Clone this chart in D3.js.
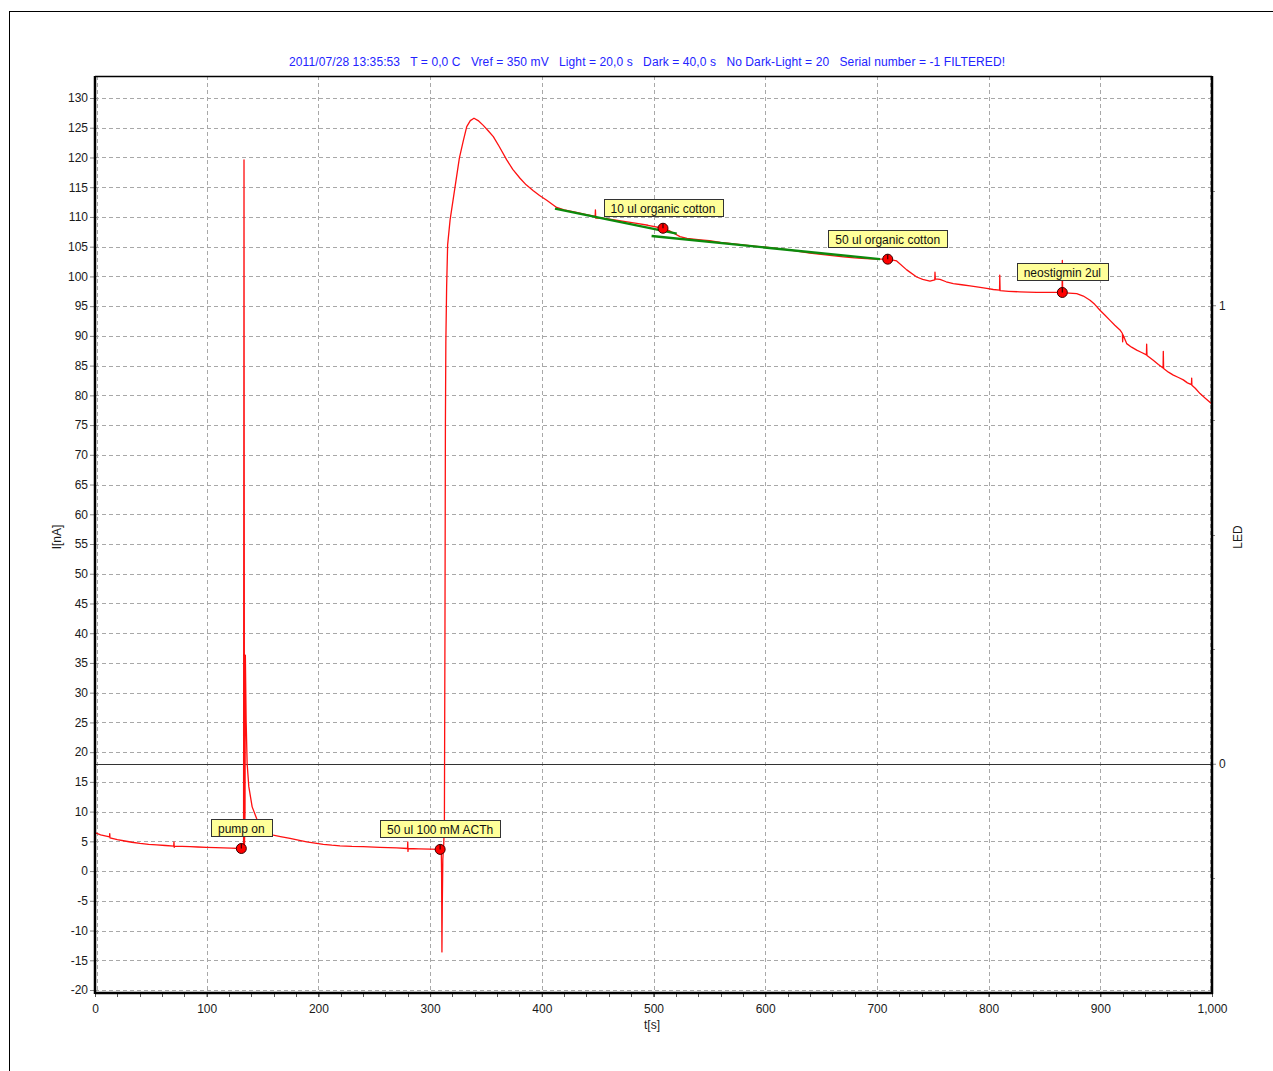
<!DOCTYPE html>
<html>
<head>
<meta charset="utf-8">
<script src="https://cdn.jsdelivr.net/npm/d3@7"></script>
<style>
  html, body { margin: 0; padding: 0; background: #fff; }
  svg { display: block; font-family: "Liberation Sans", Arial, sans-serif; }
</style>
</head>
<body>
<svg id="chart" width="1273" height="1071"></svg>
<script>
// ---------------- data ----------------
const titleText = "2011/07/28 13:35:53   T = 0,0 C   Vref = 350 mV   Light = 20,0 s   Dark = 40,0 s   No Dark-Light = 20   Serial number = -1 FILTERED!";
const xLabel = "t[s]";
const yLabel = "I[nA]";
const y2Label = "LED";

const xTicks = [0, 100, 200, 300, 400, 500, 600, 700, 800, 900, 1000];
const xTickLabels = ["0", "100", "200", "300", "400", "500", "600", "700", "800", "900", "1,000"];
const yTicks = [-20, -15, -10, -5, 0, 5, 10, 15, 20, 25, 30, 35, 40, 45, 50, 55, 60, 65, 70, 75, 80, 85, 90, 95, 100, 105, 110, 115, 120, 125, 130];
const ledTicks = [0, 1];
const ledMinorTicks = [-0.25, 0.25, 0.5, 0.75, 1.25];

// current trace [t (s), I (nA)]
const currentTrace = [
  [0,6.45],[5,6.1],[13,5.75],[13.2,6.3],[13.4,5.6],[20,5.3],[25.4,5.1],[33,4.85],[40.3,4.65],[48,4.5],
  [55.2,4.4],[63,4.3],[70.5,4.2],[70.7,4.9],[70.9,4.0],[71.1,4.2],[78,4.15],[85,4.1],[92,4.05],[100,4.0],
  [108,3.95],[115,3.9],[122,3.85],[129.8,3.8],[131,3.8],[133,3.8],[133.4,119.6],[133.8,4.0],[134.3,10],[134.6,36.3],
  [135.3,25.4],[136.2,18.1],[137.7,14.2],[140.7,10.8],[144.6,8.9],[147.7,7.5],[153,6.6],[159.6,6.05],[166,5.8],[174.6,5.5],
  [182,5.2],[189.5,4.9],[197,4.7],[204.4,4.5],[212,4.35],[219.3,4.25],[230,4.15],[240,4.1],[255,4.0],[270,3.9],
  [279.8,3.8],[280,4.9],[280.2,3.3],[280.4,3.8],[290,3.75],[300,3.7],[308.3,3.65],[310,3.6],[310.3,-0.5],[310.6,-13.6],
  [310.9,-6],[311.4,2],[312.2,4.5],[312.8,8],[313.3,40],[313.7,75],[314.1,89],[314.8,98.2],[315.7,105.3],[317.9,109.5],
  [322.3,115],[326.2,119.9],[329.7,122.8],[332.8,125.2],[336,126.2],[339.3,126.6],[343,126.2],[347.6,125.4],[352,124.5],[356.6,123.5],
  [362,121.8],[368.6,119.6],[374,118],[380.5,116.5],[386,115.4],[392.4,114.4],[398,113.6],[404.4,112.8],[413.3,111.6],[420,111.2],
  [430,110.8],[440,110.4],[447.8,110.1],[448,111.2],[448.3,109.8],[455,109.8],[465,109.5],[475,109.2],[485,108.9],[495,108.6],
  [508.5,108.1],[515,107.6],[523.7,106.7],[530,106.4],[540,106.2],[550,106.0],[560,105.7],[570,105.5],[580,105.3],[590,105.1],
  [600,104.9],[610,104.7],[620,104.5],[630,104.2],[640,103.9],[650,103.7],[660,103.5],[670,103.3],[680,103.1],[690,103.0],
  [700,102.9],[709.7,102.9],[717.7,102.6],[726.7,101.1],[735.6,99.9],[741,99.5],[747.5,99.2],[751.8,99.4],[752,100.7],[752.3,99.6],
  [756.5,99.5],[762,99.1],[768.4,98.8],[776,98.6],[783.4,98.4],[791,98.2],[798.3,98.0],[804.2,97.8],[809.8,97.7],[810,100.2],
  [810.3,97.6],[818,97.5],[828,97.4],[835,97.35],[843,97.3],[855,97.3],[865.8,97.3],[866,102.7],[866.3,97.3],[872,97.2],
  [878.9,97.1],[884.8,96.7],[890.8,96.0],[895,95.3],[899.7,94.3],[904,93.5],[908.7,92.6],[913,91.8],[917.6,91],[919.8,90.4],
  [920,89.0],[920.3,90.2],[923.6,88.7],[928,88.1],[932.6,87.6],[937,87.2],[941.3,86.8],[941.5,88.6],[941.8,86.7],[947.4,85.9],
  [952,85.2],[956.2,84.6],[956.4,87.4],[956.7,84.5],[961,83.9],[965.4,83.4],[970,83],[974.3,82.6],[978,82.1],[981.6,81.8],
  [981.8,82.9],[982,81.7],[985,81.2],[989.3,80.3],[994,79.5],[999.7,78.6]
];

// LED channel
const ledTimes = [0, 1000];
const ledValues = [0, 0];

// linear fits (green)
const fitStartT = [411.8, 498.3];
const fitStartI = [111.4, 106.8];
const fitEndT = [520.8, 702.8];
const fitEndI = [107.2, 102.9];

// event markers
const markerTimes = [131, 309, 508.5, 709.7, 866];
const markerValues = [3.8, 3.65, 108.1, 102.9, 97.3];
const markerLabels = ["pump on", "50 ul 100 mM ACTh", "10 ul organic cotton", "50 ul organic cotton", "neostigmin 2ul"];

// ---------------- drawing ----------------
const svg = d3.select("#chart");
const L = 95, R = 1212, T = 76, B = 993;

const x = d3.scaleLinear().domain([0, 1000]).range([L, R]);
const y = d3.scaleLinear().domain([-20.5, 133.7]).range([B, T]);
const yLed = d3.scaleLinear().domain([-0.5, 1.5]).range([B, T]);

// outer frame
svg.append("rect").attr("x", 9.5).attr("y", 11.5).attr("width", 1300).attr("height", 1100)
  .attr("fill", "none").attr("stroke", "#000").attr("stroke-width", 1);

// title
svg.append("text").attr("x", 647).attr("y", 66).attr("text-anchor", "middle")
  .attr("fill", "#2323ff").attr("font-size", 12).style("white-space", "pre")
  .attr("textLength", 716).attr("lengthAdjust", "spacing")
  .text(titleText);

// grid
const grid = svg.append("g").attr("stroke", "#a8a8a8").attr("stroke-width", 1).attr("stroke-dasharray", "4,3");
grid.selectAll("line.h").data(yTicks).join("line").attr("class", "h")
  .attr("x1", L).attr("x2", R).attr("y1", d => Math.round(y(d)) + 0.5).attr("y2", d => Math.round(y(d)) + 0.5);
grid.selectAll("line.v").data(xTicks).join("line").attr("class", "v")
  .attr("x1", d => Math.round(x(d)) + 0.5 + (d === 0 ? 2 : d === 1000 ? -2 : 0))
  .attr("x2", d => Math.round(x(d)) + 0.5 + (d === 0 ? 2 : d === 1000 ? -2 : 0))
  .attr("y1", T).attr("y2", B);

// LED line
const ledLine = d3.line().x((d, i) => x(ledTimes[i])).y((d, i) => Math.round(yLed(ledValues[i])) + 0.5);
svg.append("path").datum(ledTimes).attr("d", ledLine).attr("fill", "none")
  .attr("stroke", "#333").attr("stroke-width", 1.2);

// current trace
const line = d3.line().x(d => x(d[0])).y(d => y(d[1]));
svg.append("path").datum(currentTrace).attr("d", line).attr("fill", "none")
  .attr("stroke", "#ff1010").attr("stroke-width", 1.3).attr("stroke-linejoin", "round");

// fit lines
svg.append("g").selectAll("line").data(fitStartT).join("line")
  .attr("x1", (d, i) => x(fitStartT[i])).attr("y1", (d, i) => y(fitStartI[i]))
  .attr("x2", (d, i) => x(fitEndT[i])).attr("y2", (d, i) => y(fitEndI[i]))
  .attr("stroke", "#0c8a0c").attr("stroke-width", 2.4);

// axes
const tickFont = g => g.selectAll("text").attr("font-size", 12).attr("fill", "#1a1a1a")
  .attr("font-family", '"Liberation Sans", Arial, sans-serif');

const xAxis = d3.axisBottom(x).tickValues(xTicks).tickFormat((d, i) => xTickLabels[i]).tickSize(4).tickPadding(7);
const gx = svg.append("g").attr("transform", `translate(0,${B})`).call(xAxis);
gx.select(".domain").remove();
gx.call(tickFont);
// minor x ticks
svg.append("g").selectAll("line").data(d3.range(0, 1001, 20)).join("line")
  .attr("x1", d => Math.round(x(d)) + 0.5).attr("x2", d => Math.round(x(d)) + 0.5)
  .attr("y1", B).attr("y2", B + 4).attr("stroke", "#555");

const yAxis = d3.axisLeft(y).tickValues(yTicks).tickFormat(d => String(d)).tickSize(5).tickPadding(2);
const gy = svg.append("g").attr("transform", `translate(${L},0)`).call(yAxis);
gy.select(".domain").remove();
gy.call(tickFont);
gy.selectAll(".tick line").attr("stroke", "#888");

const y2Axis = d3.axisRight(yLed).tickValues(ledTicks).tickFormat(d => String(d)).tickSize(4).tickPadding(3);
const gy2 = svg.append("g").attr("transform", `translate(${R},0)`).call(y2Axis);
gy2.select(".domain").remove();
gy2.call(tickFont);
gy2.selectAll(".tick line").attr("stroke", "#888");
svg.append("g").selectAll("line").data(ledMinorTicks).join("line")
  .attr("x1", R).attr("x2", R + 3)
  .attr("y1", d => Math.round(yLed(d)) + 0.5).attr("y2", d => Math.round(yLed(d)) + 0.5)
  .attr("stroke", "#888");

// plot frame
svg.append("line").attr("x1", L).attr("x2", R).attr("y1", T + 0.5).attr("y2", T + 0.5).attr("stroke", "#000").attr("stroke-width", 1.5);
svg.append("line").attr("x1", L).attr("x2", R + 1).attr("y1", B).attr("y2", B).attr("stroke", "#000").attr("stroke-width", 2.5);
svg.append("line").attr("x1", L).attr("x2", L).attr("y1", T).attr("y2", B + 1).attr("stroke", "#000").attr("stroke-width", 2.5);
svg.append("line").attr("x1", R).attr("x2", R).attr("y1", T).attr("y2", B + 1).attr("stroke", "#000").attr("stroke-width", 2.5);

// axis titles
svg.append("text").attr("x", 652).attr("y", 1029).attr("text-anchor", "middle")
  .attr("font-size", 12).attr("fill", "#1a1a1a").text(xLabel);
svg.append("text").attr("transform", "translate(61,537) rotate(-90)").attr("text-anchor", "middle")
  .attr("font-size", 12).attr("fill", "#1a1a1a").text(yLabel);
svg.append("text").attr("transform", "translate(1242,537) rotate(-90)").attr("text-anchor", "middle")
  .attr("font-size", 12).attr("fill", "#1a1a1a").text(y2Label);

// annotation labels
const ann = svg.append("g");
markerTimes.forEach((t, i) => {
  const cx = x(t), cy = y(markerValues[i]);
  const g = ann.append("g");
  const txt = g.append("text").attr("x", cx).attr("y", cy - 15).attr("text-anchor", "middle")
    .attr("font-size", 12).attr("fill", "#111").text(markerLabels[i]);
  const w = txt.node().getComputedTextLength() + 14;
  g.insert("rect", "text").attr("x", Math.round(cx - w / 2) + 0.5).attr("y", Math.round(cy - 29) + 0.5)
    .attr("width", Math.round(w)).attr("height", 17)
    .attr("fill", "#ffff99").attr("stroke", "#333").attr("stroke-width", 1);
});

// markers
const mk = svg.append("g");
markerTimes.forEach((t, i) => {
  const cx = x(t), cy = y(markerValues[i]);
  mk.append("circle").attr("cx", cx).attr("cy", cy).attr("r", 5)
    .attr("fill", "#ff0000").attr("stroke", "#3a0000").attr("stroke-width", 1);
  mk.append("line").attr("x1", cx).attr("x2", cx).attr("y1", cy - 5).attr("y2", cy)
    .attr("stroke", "#3a0000").attr("stroke-width", 1.2);
});
</script>
</body>
</html>
